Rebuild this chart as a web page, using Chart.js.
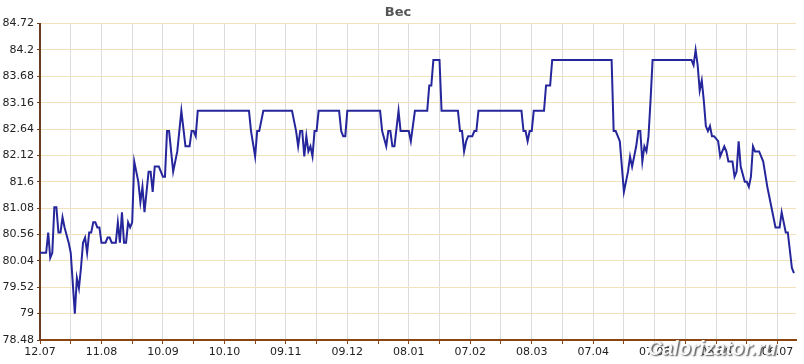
<!DOCTYPE html>
<html>
<head>
<meta charset="utf-8">
<script src="https://cdn.jsdelivr.net/npm/chart.js@4"></script>
<style>
  html, body { margin: 0; padding: 0; background: #fff; }
  #wrap { width: 804px; height: 364px; }
</style>
</head>
<body>
<div id="wrap"><canvas id="weightChart"></canvas></div>
<script>
// days since 12.07
const days = [0, 3, 4, 5, 6, 7, 8, 9, 10, 11, 12, 14, 15, 17, 18, 19, 20, 21, 22, 23, 24, 25, 26, 27, 28, 29, 30, 32, 33, 34, 35, 37, 38, 39, 40, 41, 42, 43, 44, 45, 46, 47, 48, 49, 50, 51, 52, 53, 54, 55, 56, 57, 58, 59, 60, 61, 62, 63, 65, 67, 69, 71, 73, 74, 75, 76, 77,
  102, 103, 105, 106, 107, 109, 123, 125, 126, 127, 128, 129, 130, 131, 132, 133, 134, 135, 136, 146, 147, 148, 149, 150,
  166, 167, 169, 170, 171, 172, 173, 175, 176, 180, 181, 183, 189, 190, 191, 192, 195, 196, 204, 205, 206, 207, 208, 209, 211, 212, 213, 214,
  235, 236, 237, 238, 239, 240, 241, 246, 247, 249, 250, 279, 280, 281, 283, 285, 287, 288, 289, 290, 291, 292, 293, 294, 295, 296, 297, 298, 299,
  318, 319, 320, 321, 322, 323, 324, 325, 326, 327, 328, 329, 331, 332, 334, 335, 336, 338, 339, 340, 341, 342, 344, 345, 346, 347, 348, 349, 351, 353, 355, 356, 359, 361, 362, 363, 364, 365, 367, 368];
const weights = [80.2, 80.2, 80.6, 80.1, 80.2, 81.1, 81.1, 80.6, 80.6, 80.9, 80.7, 80.4, 80.2, 79.0, 79.7, 79.5, 79.9, 80.4, 80.5, 80.2, 80.6, 80.6, 80.8, 80.8, 80.7, 80.7, 80.4, 80.4, 80.5, 80.5, 80.4, 80.4, 80.8, 80.4, 81.0, 80.4, 80.4, 80.8, 80.7, 80.8, 82.0, 81.8, 81.6, 81.2, 81.5, 81.0, 81.4, 81.8, 81.8, 81.4, 81.9, 81.9, 81.9, 81.8, 81.7, 81.7, 82.6, 82.6, 81.8, 82.2, 83.0, 82.3, 82.3, 82.6, 82.6, 82.5, 83.0,
  83.0, 82.6, 82.1, 82.6, 82.6, 83.0, 83.0, 82.6, 82.3, 82.6, 82.6, 82.1, 82.5, 82.2, 82.3, 82.1, 82.6, 82.6, 83.0, 83.0, 82.6, 82.5, 82.5, 83.0,
  83.0, 82.6, 82.3, 82.6, 82.6, 82.3, 82.3, 83.0, 82.6, 82.6, 82.4, 83.0, 83.0, 83.5, 83.5, 84.0, 84.0, 83.0, 83.0, 82.6, 82.6, 82.2, 82.4, 82.5, 82.5, 82.6, 82.6, 83.0,
  83.0, 82.6, 82.6, 82.4, 82.6, 82.6, 83.0, 83.0, 83.5, 83.5, 84.0, 84.0, 82.6, 82.6, 82.4, 81.4, 81.8, 82.1, 81.9, 82.1, 82.3, 82.6, 82.6, 82.0, 82.3, 82.2, 82.5, 83.2, 84.0,
  84.0, 83.9, 84.2, 83.9, 83.4, 83.6, 83.2, 82.7, 82.6, 82.7, 82.5, 82.5, 82.4, 82.1, 82.3, 82.2, 82.0, 82.0, 81.7, 81.8, 82.4, 81.9, 81.6, 81.6, 81.5, 81.7, 82.3, 82.2, 82.2, 82.0, 81.5, 81.3, 80.7, 80.7, 81.0, 80.8, 80.6, 80.6, 79.9, 79.8];

const dateLabels = ['12.07', '11.08', '10.09', '10.10', '09.11', '09.12', '08.01', '07.02', '08.03', '07.04', '07.05', '06.06', '06.07'];
const yTicks = [78.48, 79, 79.52, 80.04, 80.56, 81.08, 81.6, 82.12, 82.64, 83.16, 83.68, 84.2, 84.72];

const watermark = {
  id: 'watermark',
  afterDraw(chart) {
    const c = chart.ctx;
    c.save();
    c.font = 'italic bold 20px "Liberation Sans"';
    c.textAlign = 'center';
    c.textBaseline = 'middle';
    c.shadowColor = 'rgba(60,60,60,0.9)';
    c.shadowBlur = 1.5;
    c.shadowOffsetX = 1.5;
    c.shadowOffsetY = 1.5;
    c.fillStyle = 'rgba(255,255,255,0.92)';
    c.fillText('Calorizator.ru', 712, 349);
    c.restore();
  }
};

const ctx = document.getElementById('weightChart').getContext('2d');
new Chart(ctx, {
  type: 'line',
  data: {
    datasets: [{
      data: days.map((d, i) => ({ x: d, y: weights[i] })),
      borderColor: '#26269c',
      borderWidth: 2,
      pointRadius: 0,
      tension: 0,
      fill: false
    }]
  },
  options: {
    responsive: true,
    maintainAspectRatio: false,
    animation: false,
    layout: { padding: { left: 0, right: 8, top: 0, bottom: 0 } },
    scales: {
      x: {
        type: 'linear',
        min: 0,
        max: 369,
        afterBuildTicks: s => { s.ticks = dateLabels.flatMap((_, i) => i < dateLabels.length - 1 ? [{ value: i * 30 }, { value: i * 30 + 15 }] : [{ value: i * 30 }]); },
        afterFit: s => { s.height = 24; },
        ticks: {
          autoSkip: false,
          maxRotation: 0,
          padding: 2,
          color: '#222',
          font: { family: 'DejaVu Sans', size: 11 },
          callback: v => (v % 30 === 0 ? dateLabels[v / 30] : '')
        },
        grid: { color: '#dcdcdc', tickColor: '#8b4513', tickLength: 4 },
        border: { color: '#8b4513', width: 2 }
      },
      y: {
        min: 78.48,
        max: 84.72,
        afterBuildTicks: s => { s.ticks = yTicks.map(v => ({ value: v })); },
        afterFit: s => { s.width = 40; },
        ticks: {
          padding: 3,
          color: '#222',
          font: { family: 'DejaVu Sans', size: 11 },
          callback: v => String(parseFloat(v.toFixed(2)))
        },
        grid: { color: '#f1e2bb', tickColor: '#6b3d1e', tickLength: 3 },
        border: { color: '#6b3d1e', width: 2 }
      }
    },
    plugins: {
      legend: { display: false },
      tooltip: { enabled: false },
      title: {
        display: true,
        text: 'Вес',
        color: '#555',
        font: { family: 'DejaVu Sans', size: 13, weight: 'bold' },
        padding: { top: 5, bottom: 3 }
      }
    }
  },
  plugins: [watermark]
});
</script>
</body>
</html>
